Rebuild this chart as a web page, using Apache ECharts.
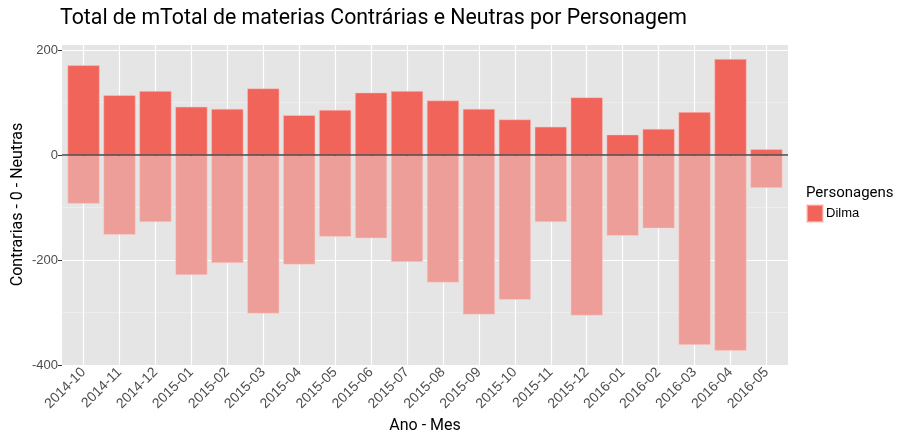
<!DOCTYPE html>
<html><head><meta charset="utf-8">
<script src="https://cdn.jsdelivr.net/npm/echarts@6/dist/echarts.min.js"></script>
<style>html,body{margin:0;padding:0;background:#fff}#c{width:897px;height:432px}</style>
</head><body><div id="c"></div>
<script>
const categories = ['2014-10','2014-11','2014-12','2015-01','2015-02','2015-03','2015-04','2015-05','2015-06','2015-07','2015-08','2015-09','2015-10','2015-11','2015-12','2016-01','2016-02','2016-03','2016-04','2016-05'];
const contrarias = [171,114,122,92,88,127,76,86,119,122,104,88,68,54,110,39,50,82,183,11];
const neutras = [-93,-152,-128,-229,-206,-302,-209,-156,-159,-204,-243,-304,-276,-128,-306,-154,-140,-362,-373,-63];
const yTicks = [-400,-200,0,200];
const seriesName = 'Dilma';

const chart = echarts.init(document.getElementById('c'));
const yMin = yTicks[0], yMax = 211.4;
const labelFont = 'Liberation Sans';
chart.setOption({
  animation: false,
  backgroundColor: '#fff',
  title: [
    {text: 'Total de mTotal de materias Contrárias e Neutras por Personagem', left: 60, top: 8, padding: 0,
     textStyle: {fontFamily: 'Roboto', fontSize: 21.3, fontWeight: 'normal', color: '#000'}},
    {text: 'Personagens', left: 806, top: 186, padding: 0,
     textStyle: {fontFamily: 'Roboto', fontSize: 15, fontWeight: 'normal', color: '#000'}}
  ],
  legend: {data: [seriesName], left: 806, top: 204, padding: 0, orient: 'vertical', itemWidth: 16, itemHeight: 17,
    itemGap: 4, icon: 'rect', textStyle: {fontFamily: labelFont, fontSize: 13, color: '#000', padding: [0,0,0,-2]}},
  grid: [
    {left: 62, top: 44, width: 726, height: 321, show: true, backgroundColor: '#E5E5E5', borderWidth: 0, outerBoundsMode: 'none', containLabel: false},
    {left: 62 + 726*0.1/20.2, top: 44, width: 726*20/20.2, height: 321, outerBoundsMode: 'none', containLabel: false}
  ],
  xAxis: [
    {gridIndex: 0, type: 'value', min: 0, max: 1, show: false},
    {gridIndex: 1, type: 'category', data: categories,
     axisLine: {show: false},
     axisTick: {show: true, alignWithLabel: true, length: 4, lineStyle: {color: '#333'}},
     splitLine: {show: true, alignWithLabel: true, lineStyle: {color: '#fff', width: 1.2}},
     axisLabel: {rotate: 45, fontFamily: labelFont, fontSize: 14, color: '#4D4D4D', margin: 5, interval: 0},
     name: 'Ano - Mes', nameLocation: 'middle', nameGap: 53, nameMoveOverlap: false,
     nameTextStyle: {fontFamily: 'Roboto', fontSize: 16, color: '#000'}}
  ],
  yAxis: [
    {gridIndex: 0, type: 'value', min: yMin, max: yMax, interval: 200,
     axisLine: {show: false},
     axisTick: {show: true, length: 4, lineStyle: {color: '#333'}},
     axisLabel: {fontFamily: labelFont, fontSize: 13, color: '#4D4D4D', margin: 4, showMaxLabel: false,
       formatter: v => yTicks.includes(v) ? String(v) : ''},
     splitLine: {show: true, lineStyle: {color: '#fff', width: 1.2}},
     minorTick: {show: false, splitNumber: 2},
     minorSplitLine: {show: true, lineStyle: {color: '#F2F2F2', width: 0.6}},
     name: 'Contrarias - 0 - Neutras', nameLocation: 'middle', nameGap: 36, nameMoveOverlap: false,
     nameTextStyle: {fontFamily: 'Roboto', fontSize: 16, color: '#000'}},
    {gridIndex: 1, type: 'value', min: yMin, max: yMax, interval: 200, show: false, splitLine: {show: false}}
  ],
  series: [
    {name: seriesName, type: 'bar', xAxisIndex: 1, yAxisIndex: 1, stack: 's', barWidth: '90%',
     data: contrarias,
     itemStyle: {color: '#F1645A', borderColor: 'rgba(255,200,195,0.6)', borderWidth: 0.8}},
    {name: 'neg', type: 'bar', xAxisIndex: 1, yAxisIndex: 1, stack: 's', barWidth: '90%',
     data: neutras,
     itemStyle: {color: '#EE9E98', borderColor: 'rgba(255,210,205,0.6)', borderWidth: 0.8}},
    {name: 'zero', type: 'line', xAxisIndex: 0, yAxisIndex: 0, data: [],
     markLine: {silent: true, symbol: 'none', label: {show: false},
       lineStyle: {color: 'rgba(0,0,0,0.7)', type: 'solid', width: 1.5},
       data: [{yAxis: 0}]}}
  ]
});
</script></body></html>
